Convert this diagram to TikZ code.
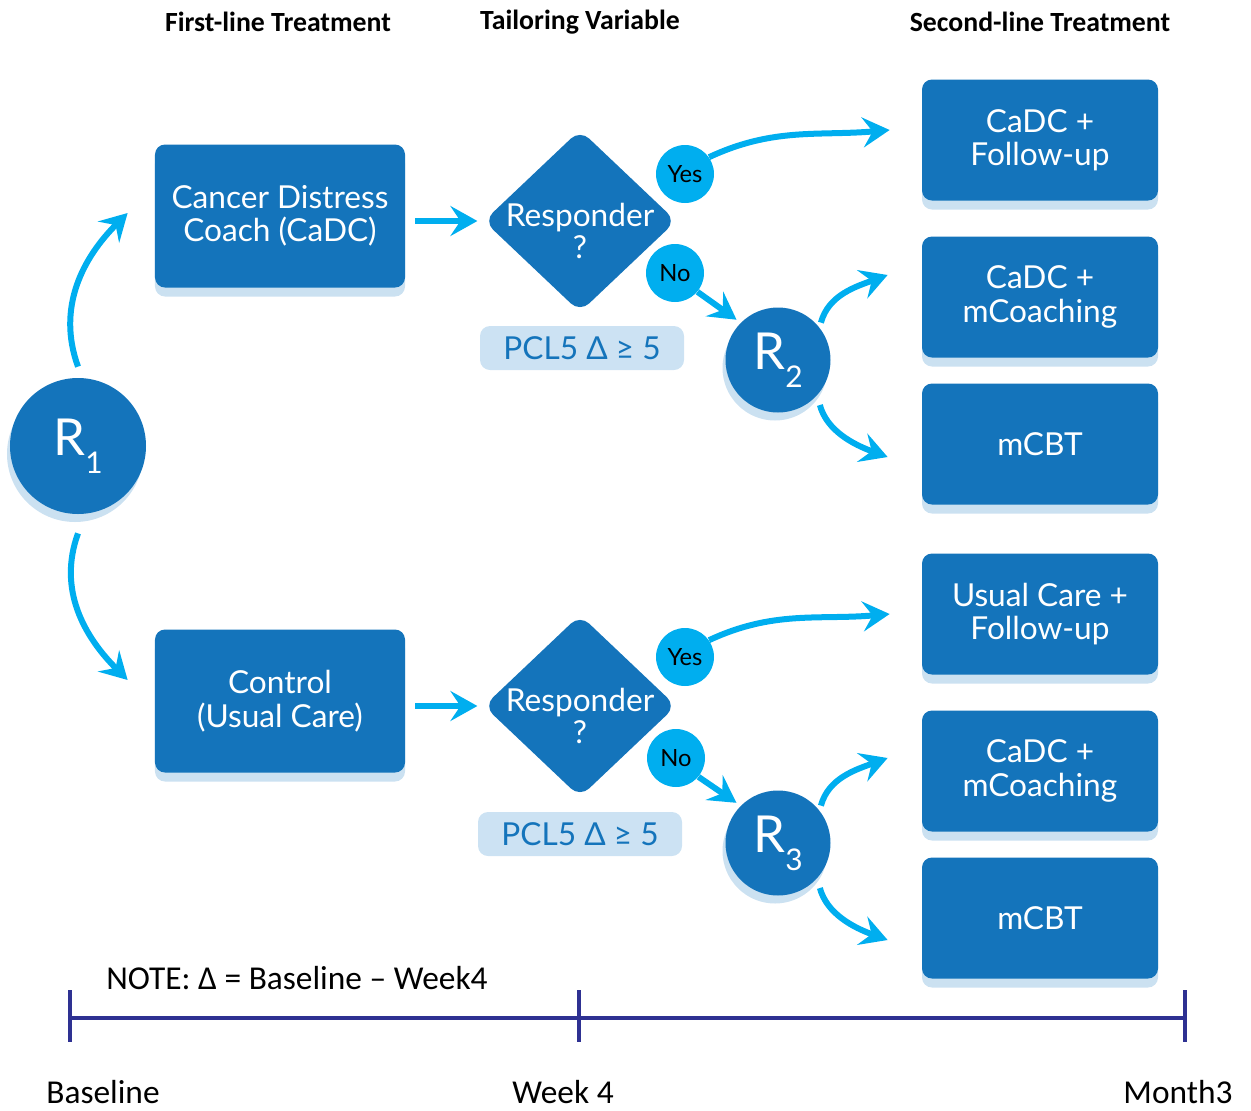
\documentclass[tikz,border=0pt]{standalone}
\usepackage{fontspec}
\setmainfont{Lato}
\newfontfamily\calfont{Carlito}
\usetikzlibrary{arrows.meta,shapes.geometric,shadows}

\definecolor{boxblue}{HTML}{1474BB}
\definecolor{shadeblue}{HTML}{CBE1F1}
\definecolor{arrowcyan}{HTML}{00AEEF}
\definecolor{pclfill}{HTML}{CCE2F3}
\definecolor{linenavy}{HTML}{2E3192}

\tikzset{
  treat/.style={fill=boxblue, rounded corners=2mm, text=white, align=center,
    font=\fontsize{18}{19}\selectfont, minimum width=50mm, minimum height=28.6mm,
    drop shadow={shadow xshift=0mm, shadow yshift=-1.8mm, fill=shadeblue, opacity=1}},
  second/.style={treat, minimum width=47.2mm, minimum height=24.2mm},
  rand/.style={circle, fill=boxblue, text=white, inner sep=0pt,
    font=\fontsize{29}{30}\selectfont,
    drop shadow={shadow xshift=-0.6mm, shadow yshift=-1.6mm, fill=shadeblue, opacity=1}},
  resp/.style={diamond, fill=boxblue, rounded corners=2.5mm, inner sep=0pt,
    minimum width=38.5mm, minimum height=36.5mm},
  asks/.style={text=white, align=center, font=\fontsize{18}{18.5}\selectfont, yshift=-2mm},
  answer/.style={circle, fill=arrowcyan, minimum size=11.6mm, inner sep=0pt,
    font=\fontsize{13.5}{15}\selectfont},
  crit/.style={fill=pclfill, rounded corners=2mm, minimum width=40.8mm,
    minimum height=8.8mm, text=boxblue, font=\fontsize{18}{20}\selectfont},
  arr/.style={draw=arrowcyan, line width=1.2mm,
    -{Stealth[length=5.4mm,width=6mm,inset=2mm]}},
  tl/.style={draw=linenavy, line width=0.8mm},
  head/.style={font=\calfont\bfseries\fontsize{15.8}{18}\selectfont},
  axis/.style={font=\calfont\fontsize{19}{22}\selectfont}
}
\newcommand{\rsub}[1]{R\raisebox{-0.35em}{\fontsize{17}{17}\selectfont #1}}

\begin{document}
\begin{tikzpicture}[x=0.2mm,y=0.2mm]
\useasboundingbox (0,0) rectangle (1251,-1111);

% column heads
\node[head] (h1) at (278,-22) {First-line Treatment};
\node[head] (h2) at (580,-22) {Tailoring Variable};
\node[head] (h3) at (1040,-22) {Second-line Treatment};

% first randomisation and first-line arms
\node[rand, minimum size=27.2mm] (r1) at (78,-446) {\rsub{1}};
\node[treat] (cadc) at (280,-216) {Cancer Distress\\Coach (CaDC)};
\node[treat] (ctrl) at (280,-701) {Control\\(Usual Care)};

% tailoring variable
\node[resp, label={[asks]center:Responder\\?}] (resp1) at (580,-221) {};
\node[resp, label={[asks]center:Responder\\?}] (resp2) at (580,-706) {};
\node[crit] (pcl1) at (582,-348) {PCL5 Δ ≥ 5};
\node[crit] (pcl2) at (580,-834) {PCL5 Δ ≥ 5};
\node[answer] (yes1) at (685,-174) {Yes};
\node[answer] (no1) at (675,-273) {No};
\node[answer] (yes2) at (685,-657) {Yes};
\node[answer] (no2) at (676,-758) {No};

% second randomisations
\node[rand, minimum size=21mm] (r2) at (778,-360) {\rsub{2}};
\node[rand, minimum size=21mm] (r3) at (778,-843) {\rsub{3}};

% second-line arms
\node[second] (fol1) at (1040,-140) {CaDC +\\Follow-up};
\node[second] (mco1) at (1040,-297) {CaDC +\\mCoaching};
\node[second] (mcbt1) at (1040,-444) {mCBT};
\node[second] (fol2) at (1040,-614) {Usual Care +\\Follow-up};
\node[second] (mco2) at (1040,-771) {CaDC +\\mCoaching};
\node[second] (mcbt2) at (1040,-918) {mCBT};

% arrows
\draw[arr] ([yshift=2.2mm]r1.north) to[out=110,in=225] ([xshift=-5.4mm,yshift=0.6mm]cadc.west);
\draw[arr] ([yshift=-3.8mm]r1.south) to[out=250,in=135] ([xshift=-5.4mm,yshift=4.2mm]ctrl.west);
\draw[arr, shorten <=2mm, shorten >=1.2mm] (cadc.east |- resp1.west) -- (resp1.west);
\draw[arr, shorten <=2mm, shorten >=1.2mm] (ctrl.east |- resp2.west) -- (resp2.west);

\draw[arr] (yes1.35) to[out=25,in=185] ([xshift=-6.4mm,yshift=2mm]fol1.west);
\draw[arr, shorten >=1mm] (no1.-40) -- (r2.135);
\draw[arr, shorten <=1mm] (r2.38) to[out=75,in=200] ([xshift=-6.8mm,yshift=4.4mm]mco1.west);
\draw[arr, shorten <=2mm] (r2.-42) to[out=-75,in=160] ([xshift=-6.8mm,yshift=-2.6mm]mcbt1.west);

\draw[arr] (yes2.35) to[out=25,in=185] ([xshift=-6.4mm]fol2.west);
\draw[arr, shorten >=1mm] (no2.-40) -- (r3.135);
\draw[arr, shorten <=1mm] (r3.38) to[out=75,in=200] ([xshift=-6.8mm,yshift=2.6mm]mco2.west);
\draw[arr, shorten <=2mm] (r3.-42) to[out=-75,in=160] ([xshift=-6.8mm,yshift=-4.4mm]mcbt2.west);

% time line
\node[axis] (note) at (297,-978) {NOTE: Δ = Baseline – Week4};
\coordinate (t0) at (70,-1018);
\coordinate (t1) at (579,-1018);
\coordinate (t2) at (1185,-1018);
\draw[tl] (t0) -- (t2);
\draw[tl] ([yshift=5.6mm]t0) -- ([yshift=-4.8mm]t0);
\draw[tl] ([yshift=5.6mm]t1) -- ([yshift=-4.8mm]t1);
\draw[tl] ([yshift=5.6mm]t2) -- ([yshift=-4.8mm]t2);
\node[axis] (base) at (103,-1092) {Baseline};
\node[axis] (week) at (563,-1092) {Week 4};
\node[axis] (month) at (1178,-1092) {Month3};
\end{tikzpicture}
\end{document}
